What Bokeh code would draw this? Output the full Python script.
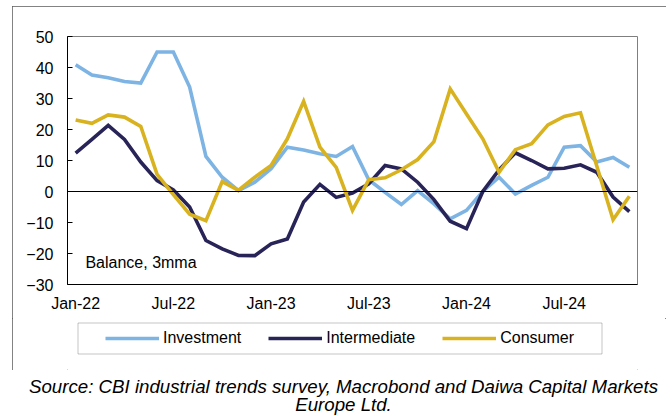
from bokeh.plotting import figure
from bokeh.layouts import column
from bokeh.models import (FixedTicker, Range1d, Span, Label, Legend, LegendItem,
                          BoxAnnotation)
from bokeh.embed import file_html
from bokeh.resources import INLINE

months = ["Jan-22", "Feb-22", "Mar-22", "Apr-22", "May-22", "Jun-22", "Jul-22", "Aug-22",
          "Sep-22", "Oct-22", "Nov-22", "Dec-22", "Jan-23", "Feb-23", "Mar-23", "Apr-23",
          "May-23", "Jun-23", "Jul-23", "Aug-23", "Sep-23", "Oct-23", "Nov-23", "Dec-23",
          "Jan-24", "Feb-24", "Mar-24", "Apr-24", "May-24", "Jun-24", "Jul-24", "Aug-24",
          "Sep-24", "Oct-24", "Nov-24"]

investment = [40.9, 37.6, 36.7, 35.5, 35.0, 45.0, 45.0, 33.7, 11.3, 4.6, 0.3, 3.0,
              7.3, 14.3, 13.4, 12.2, 11.3, 14.5, 3.8, -0.3, -4.2, 0.3, -4.0, -8.8,
              -6.1, 0.0, 4.6, -0.8, 2.0, 4.6, 14.3, 14.8, 9.5, 11.0, 7.8]
intermediate = [12.4, 16.8, 21.3, 16.8, 9.5, 3.5, 0.5, -5.0, -15.8, -18.5, -20.6, -20.7,
                -16.9, -15.3, -3.4, 2.3, -1.9, -0.5, 2.5, 8.4, 7.3, 3.0, -2.6, -9.6,
                -12.0, 0.0, 7.0, 12.5, 10.0, 7.3, 7.5, 8.6, 6.2, -1.8, -6.5]
consumer = [23.1, 22.0, 24.7, 24.0, 21.0, 5.5, -1.0, -7.3, -9.4, 3.2, 0.4, 4.6,
            8.4, 17.0, 29.1, 14.3, 7.8, -6.1, 3.8, 4.4, 7.0, 10.3, 16.1, 33.1,
            25.0, 17.0, 6.2, 13.5, 15.4, 21.5, 24.2, 25.4, 8.2, -9.1, -1.5]

series_names = ["Investment", "Intermediate", "Consumer"]
series_colors = ["#7db4e4", "#282457", "#d9b220"]
tick_positions = [0, 6, 12, 18, 24, 30]
y_ticks = [-30, -20, -10, 0, 10, 20, 30, 40, 50]
source_lines = ["Source: CBI industrial trends survey, Macrobond and Daiwa Capital Markets",
                "Europe Ltd."]

x = list(range(len(months)))
FONT = "Liberation Sans"
LW = 3.6

# ---- main chart ----
p = figure(width=654, height=312, output_backend="svg", toolbar_location=None,
           x_range=Range1d(-0.5, len(months) - 0.5), y_range=Range1d(-30, 50),
           min_border_left=55, min_border_right=29, min_border_top=30,
           min_border_bottom=34)
p.background_fill_color = "white"
p.border_fill_color = "white"
p.outline_line_color = "#7f7f7f"
p.outline_line_width = 1
p.xgrid.visible = False
p.ygrid.visible = False

p.yaxis.ticker = FixedTicker(ticks=y_ticks)
p.yaxis.major_tick_in = 5
p.yaxis.major_tick_out = 0
p.yaxis.minor_tick_line_color = None
p.yaxis.major_label_standoff = 14
p.yaxis.axis_line_color = "black"
p.yaxis.major_tick_line_color = "black"
p.yaxis.major_label_text_font = FONT
p.yaxis.major_label_text_font_size = "16px"
p.yaxis.major_label_text_color = "black"

p.xaxis.ticker = FixedTicker(ticks=tick_positions)
p.xaxis.major_label_overrides = {t: months[t] for t in tick_positions}
p.xaxis.major_tick_in = 0
p.xaxis.major_tick_out = 0
p.xaxis.minor_tick_line_color = None
p.xaxis.major_label_standoff = 10
p.xaxis.axis_line_color = "black"
p.xaxis.major_label_text_font = FONT
p.xaxis.major_label_text_font_size = "16px"
p.xaxis.major_label_text_color = "black"

p.add_layout(Span(location=0, dimension="width", line_color="black", line_width=1))

for vals, col in zip([investment, intermediate, consumer], series_colors):
    p.line(x, vals, line_color=col, line_width=LW, line_join="miter")

p.add_layout(Label(x=0.6, y=-23, text="Balance, 3mma", text_font=FONT,
                   text_font_size="16px", text_color="black",
                   text_baseline="middle", text_align="left"))

# ---- legend strip (frame aligned with the chart frame; x range in page pixels) ----
p3 = figure(width=654, height=52, output_backend="svg", toolbar_location=None,
            x_range=Range1d(67, 637), y_range=Range1d(52, 0),
            x_axis_type=None, y_axis_type=None,
            min_border_left=55, min_border_right=29, min_border_top=0,
            min_border_bottom=0)
p3.outline_line_color = None
p3.xgrid.visible = False
p3.ygrid.visible = False
p3.background_fill_color = "white"
p3.border_fill_color = "white"
# key proxies (kept outside the visible range, only their legend samples show)
key_renderers = [p3.line([0, 1], [-100, -100], line_color=c, line_width=LW)
                 for c in series_colors]
p3.add_layout(BoxAnnotation(left=77.5, right=601.5, top=4.5, bottom=35.5,
                            fill_alpha=0, line_color="#404040", line_width=1))
legend = Legend(items=[LegendItem(label=n, renderers=[r])
                       for n, r in zip(series_names, key_renderers)],
                orientation="horizontal", location=(33, 17), margin=0,
                padding=5, spacing=27, label_standoff=4, glyph_width=54,
                glyph_height=20, label_height=20,
                border_line_alpha=0, background_fill_alpha=0,
                label_text_font=FONT, label_text_font_size="16px",
                label_text_color="black")
p3.add_layout(legend)

framed = column(p, p3, spacing=0, margin=(6, 0, 0, 12),
                styles={"outline": "1px solid #5a5a5a", "outline-offset": "-1px"})

# ---- source note ----
p2 = figure(width=672, height=46, output_backend="svg", toolbar_location=None,
            x_range=Range1d(0, 672), y_range=Range1d(46, 0),
            x_axis_type=None, y_axis_type=None, min_border=0)
p2.outline_line_color = None
p2.xgrid.visible = False
p2.ygrid.visible = False
for txt, yy in zip(source_lines, [16, 34]):
    p2.add_layout(Label(x=343, y=yy, text=txt, text_font=FONT, text_font_size="18.7px",
                        text_font_style="italic", text_color="black",
                        text_align="center", text_baseline="middle"))

layout = column(framed, p2, spacing=0)
open("out.html", "w").write(file_html(layout, INLINE))
